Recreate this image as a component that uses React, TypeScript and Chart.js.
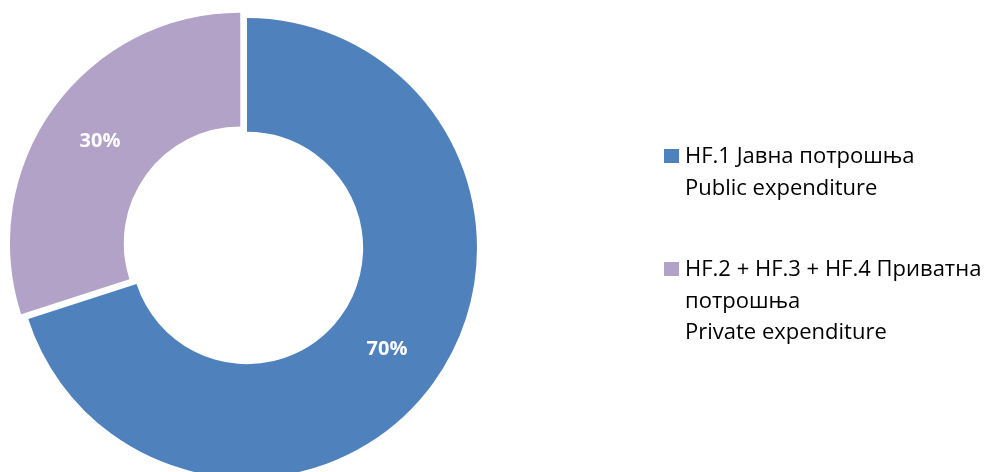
import React, { useEffect, useRef } from 'react';
import { Chart, registerables } from 'chart.js';

Chart.register(...registerables);

// ---- data ----
const categories: string[][] = [
  ['HF.1 Јавна потрошња', 'Public expenditure'],
  ['HF.2 + HF.3 + HF.4 Приватна', 'потрошња', 'Private expenditure'],
];
const shares: number[] = [70, 30];
const sliceColors: string[] = ['#4F81BD', '#B3A2C7'];
const sliceOffsets: number[] = [0, 33];

// ---- style constants ----
const FONT = '"Open Sans", Lato, sans-serif';
const LEGEND_X = 664;
const LEGEND_BASE = 163;
const LEGEND_LINE = 31.5;
const LEGEND_GAP = 50;

const pctLabels = {
  id: 'pctLabels',
  afterDatasetsDraw(chart: any) {
    const ctx = chart.ctx;
    const meta = chart.getDatasetMeta(0);
    const ds = chart.data.datasets[0];
    const total = ds.data.reduce((a: number, b: number) => a + b, 0);
    ctx.save();
    ctx.font = 'bold 20px ' + FONT;
    ctx.fillStyle = '#ffffff';
    ctx.textAlign = 'center';
    ctx.textBaseline = 'middle';
    meta.data.forEach((arc: any, i: number) => {
      const p = arc.getProps(['x', 'y', 'startAngle', 'endAngle', 'innerRadius', 'outerRadius', 'circumference'], true);
      const mid = (p.startAngle + p.endAngle) / 2;
      const off = (arc.options.offset || 0) / 4;
      const fix = 1 - Math.sin(Math.min(Math.PI, p.circumference || 0));
      const shift = off + off * fix;
      const r = (p.innerRadius + p.outerRadius) / 2 + shift;
      const px = p.x + Math.cos(mid) * r;
      const py = p.y + Math.sin(mid) * r;
      ctx.fillText(Math.round((ds.data[i] / total) * 100) + '%', px, py);
    });
    ctx.restore();
  },
};

const sideLegend = {
  id: 'sideLegend',
  afterDraw(chart: any) {
    const ctx = chart.ctx;
    const labels = chart.data.labels as string[][];
    const cols = chart.data.datasets[0].backgroundColor as string[];
    ctx.save();
    ctx.font = '22px ' + FONT;
    ctx.textBaseline = 'alphabetic';
    ctx.textAlign = 'left';
    let y = LEGEND_BASE;
    labels.forEach((lines, i) => {
      ctx.fillStyle = cols[i];
      ctx.fillRect(LEGEND_X, y - 14, 15, 14);
      ctx.fillStyle = '#000000';
      lines.forEach((line, j) => ctx.fillText(line, LEGEND_X + 21, y + j * LEGEND_LINE));
      y += lines.length * LEGEND_LINE + LEGEND_GAP;
    });
    ctx.restore();
  },
};

export default function App() {
  const ref = useRef<HTMLCanvasElement>(null);
  useEffect(() => {
    if (!ref.current) return;
    const chart = new Chart(ref.current, {
      type: 'doughnut',
      data: {
        labels: categories,
        datasets: [
          {
            data: shares,
            backgroundColor: sliceColors,
            borderWidth: 0,
            offset: sliceOffsets,
            hoverOffset: 0,
            radius: 230,
            clip: false,
          } as any,
        ],
      },
      options: {
        animation: false,
        responsive: false,
        events: [],
        cutout: '50.5%',
        layout: { padding: { left: 47, top: 48, right: 552, bottom: 24 } },
        plugins: { legend: { display: false }, tooltip: { enabled: false } },
      },
      plugins: [pctLabels, sideLegend],
    });
    return () => chart.destroy();
  }, []);
  return (
    <div style={{ position: 'absolute', left: 0, top: 0, width: 999, height: 472, overflow: 'hidden', background: '#fff' }}>
      <canvas ref={ref} width={999} height={472} style={{ display: 'block', width: 999, height: 472 }} />
    </div>
  );
}
